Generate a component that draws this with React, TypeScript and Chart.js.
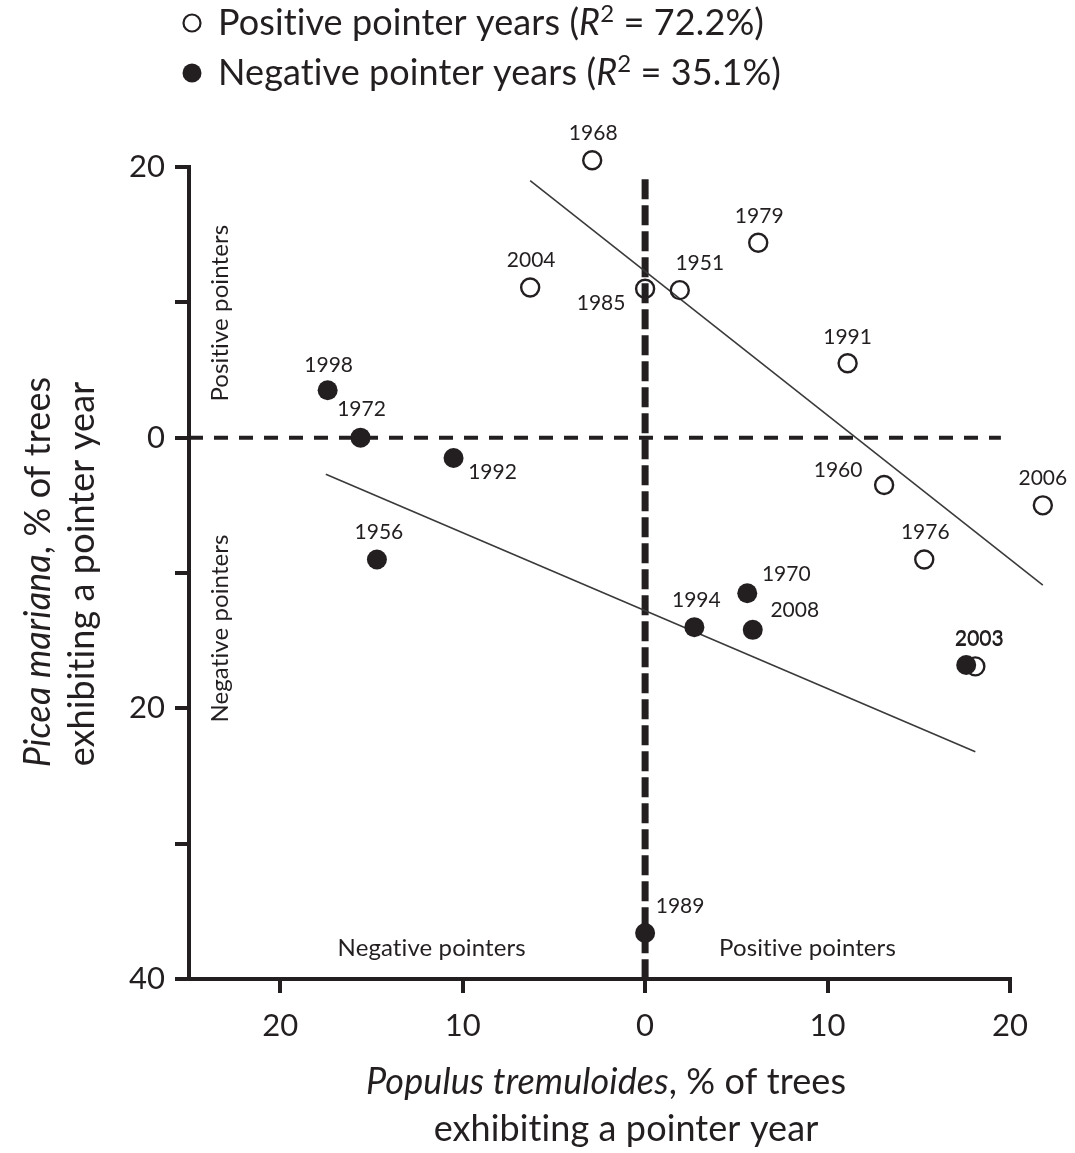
import React, { useEffect, useRef } from 'react';
import { Chart, registerables } from 'chart.js';

Chart.register(...registerables);

// ---- data ----
const positiveYears = ['1968', '2004', '1985', '1951', '1979', '1991', '1960', '2006', '1976', '2003'];
const positiveX = [-2.9, -6.3, 0, 1.9, 6.2, 11.1, 13.1, 21.8, 15.3, 18.1];
const positiveY = [20.5, 11.1, 11.0, 10.9, 14.4, 5.5, -3.5, -5.0, -9.0, -16.9];

const negativeYears = ['1998', '1972', '1992', '1956', '1970', '1994', '2008', '2003', '1989'];
const negativeX = [-17.4, -15.6, -10.5, -14.7, 5.6, 2.7, 5.9, 17.6, 0];
const negativeY = [3.5, 0, -1.5, -9.0, -11.5, -14.0, -14.2, -16.8, -36.6];

const positiveFitX = [-6.3, 21.8];
const positiveFitY = [19.0, -10.9];
const negativeFitX = [-17.5, 18.1];
const negativeFitY = [-2.7, -23.2];

const zeroLineHX = [-25, 19.5];
const zeroLineVY = [19.1, -40];

const xTicks = [-20, -10, 0, 10, 20];
const yTicks = [20, 10, 0, -10, -20, -30, -40];
const yLabelled = [20, 0, -20, -40];

// label offsets in px (placement only)
const positiveLabelOffsets: Record<string, [number, number]> = {
  '1968': [1, -27], '2004': [1, -27], '1985': [-44, 14], '1951': [20, -27], '1979': [1, -27],
  '1991': [0, -26], '1960': [-46, -15], '2006': [0, -27], '1976': [1, -27], '2003': [4, -28],
};
const negativeLabelOffsets: Record<string, [number, number]> = {
  '1998': [1, -25], '1972': [1, -28], '1992': [39, 14], '1956': [2, -27], '1970': [39, -19],
  '1994': [2, -27], '2008': [42, -20], '2003': [13, -26], '1989': [35, -27],
};

const INK = '#231f20';
const FONT = 'Lato, "Open Sans", sans-serif';

type Part = { t: string; it?: boolean; sup?: boolean };

function drawParts(
  ctx: CanvasRenderingContext2D, parts: Part[], size: number, x: number, y: number,
  align: 'left' | 'center' = 'center', rot = 0, baseline: CanvasTextBaseline = 'alphabetic'
) {
  ctx.save();
  ctx.translate(x, y);
  ctx.rotate(rot);
  ctx.fillStyle = INK;
  ctx.textAlign = 'left';
  ctx.textBaseline = baseline;
  (ctx as any).letterSpacing = '0.1px';
  const fontOf = (p: Part) => `${p.it ? 'italic ' : ''}${p.sup ? Math.round(size * 0.68) : size}px ${FONT}`;
  let w = 0;
  for (const p of parts) { ctx.font = fontOf(p); w += ctx.measureText(p.t).width; }
  let cx = align === 'center' ? -w / 2 : 0;
  for (const p of parts) {
    ctx.font = fontOf(p);
    ctx.fillText(p.t, cx, p.sup ? -size * 0.36 : 0);
    cx += ctx.measureText(p.t).width;
  }
  ctx.restore();
}

const widenAreaPlugin = {
  id: 'widenArea',
  beforeDatasetsDraw(chart: any) {
    chart.$savedArea = chart.chartArea;
    chart.chartArea = { ...chart.chartArea, left: 0, top: 0, right: chart.width, bottom: chart.height };
  },
  afterDatasetsDraw(chart: any) {
    if (chart.$savedArea) chart.chartArea = chart.$savedArea;
  },
};

const decorPlugin = {
  id: 'decor',
  afterDraw(chart: any) {
    const ctx: CanvasRenderingContext2D = chart.ctx;
    // point labels
    const drawLabels = (dsIndex: number, years: string[], offs: Record<string, [number, number]>) => {
      const meta = chart.getDatasetMeta(dsIndex);
      meta.data.forEach((el: any, i: number) => {
        const o = offs[years[i]] || [0, -27];
        ctx.save();
        ctx.font = `21px ${FONT}`;
        ctx.fillStyle = INK;
        ctx.textAlign = 'center';
        ctx.textBaseline = 'middle';
        ctx.fillText(years[i], el.x + o[0], el.y + o[1]);
        ctx.restore();
      });
    };
    drawLabels(0, negativeYears, negativeLabelOffsets);
    drawLabels(1, positiveYears, positiveLabelOffsets);

    // quadrant labels
    const ca = chart.chartArea;
    const xs = chart.scales.x;
    const ys = chart.scales.y;
    drawParts(ctx, [{ t: 'Positive pointers' }], 24, ca.left + 31, ys.getPixelForValue(9.2), 'center', -Math.PI / 2, 'middle');
    drawParts(ctx, [{ t: 'Negative pointers' }], 24, ca.left + 31, ys.getPixelForValue(-14.1), 'center', -Math.PI / 2, 'middle');
    drawParts(ctx, [{ t: 'Negative pointers' }], 24, xs.getPixelForValue(-11.7), ca.bottom - 31, 'center', 0, 'middle');
    drawParts(ctx, [{ t: 'Positive pointers' }], 24, xs.getPixelForValue(8.9), ca.bottom - 31, 'center', 0, 'middle');

    // axis titles
    drawParts(ctx, [{ t: 'Populus tremuloides', it: true }, { t: ', % of trees' }], 36, 606, 1094);
    drawParts(ctx, [{ t: 'exhibiting a pointer year' }], 36, 626, 1141);
    drawParts(ctx, [{ t: 'Picea mariana', it: true }, { t: ', % of trees' }], 36, 50, 572, 'center', -Math.PI / 2);
    drawParts(ctx, [{ t: 'exhibiting a pointer year' }], 36, 94, 574, 'center', -Math.PI / 2);

    // legend
    ctx.save();
    ctx.strokeStyle = INK;
    ctx.fillStyle = INK;
    ctx.lineWidth = 2.2;
    ctx.beginPath(); ctx.arc(192, 23, 8.5, 0, Math.PI * 2); ctx.stroke();
    ctx.beginPath(); ctx.arc(192, 73, 9.5, 0, Math.PI * 2); ctx.fill();
    ctx.restore();
    drawParts(ctx, [{ t: 'Positive pointer years (' }, { t: 'R', it: true }, { t: '2', sup: true }, { t: ' = 72.2%)' }], 36, 218, 35, 'left');
    drawParts(ctx, [{ t: 'Negative pointer years (' }, { t: 'R', it: true }, { t: '2', sup: true }, { t: ' = 35.1%)' }], 36, 218, 85, 'left');
  },
};

const toPts = (xs: number[], ys: number[]) => xs.map((x, i) => ({ x, y: ys[i] }));

export default function App() {
  const ref = useRef<HTMLCanvasElement>(null);
  useEffect(() => {
    if (!ref.current) return;
    const chart = new Chart(ref.current, {
      type: 'scatter',
      data: {
        datasets: [
          {
            label: 'Negative pointer years',
            data: toPts(negativeX, negativeY),
            pointRadius: 10,
            pointBackgroundColor: INK,
            pointBorderColor: INK,
            pointBorderWidth: 0,
            clip: false,
          } as any,
          {
            label: 'Positive pointer years',
            data: toPts(positiveX, positiveY),
            pointRadius: 9,
            pointBackgroundColor: 'rgba(255,255,255,0)',
            pointBorderColor: INK,
            pointBorderWidth: 2.4,
            clip: false,
          } as any,
          {
            label: 'fitPos',
            data: toPts(positiveFitX, positiveFitY),
            showLine: true,
            pointRadius: 0,
            borderColor: '#3a3a3a',
            borderWidth: 1.6,
            clip: false,
          } as any,
          {
            label: 'fitNeg',
            data: toPts(negativeFitX, negativeFitY),
            showLine: true,
            pointRadius: 0,
            borderColor: '#3a3a3a',
            borderWidth: 1.6,
            clip: false,
          } as any,
          {
            label: 'zeroH',
            data: toPts(zeroLineHX, [0, 0]),
            showLine: true,
            pointRadius: 0,
            borderColor: INK,
            borderWidth: 4,
            borderDash: [14, 11],
            borderCapStyle: 'butt',
            clip: false,
          } as any,
          {
            label: 'zeroV',
            data: toPts([0, 0], zeroLineVY),
            showLine: true,
            pointRadius: 0,
            borderColor: INK,
            borderWidth: 7,
            borderDash: [20, 6],
            borderCapStyle: 'butt',
            clip: false,
          } as any,
        ],
      },
      options: {
        animation: false,
        responsive: false,
        devicePixelRatio: 1,
        layout: { padding: { left: 0, top: 167, right: 65, bottom: 0 } },
        plugins: { legend: { display: false }, tooltip: { enabled: false } },
        scales: {
          x: {
            type: 'linear',
            min: -25,
            max: 20,
            afterBuildTicks: (s: any) => { s.ticks = xTicks.map((v) => ({ value: v })); },
            afterFit: (s: any) => { s.height = 174; },
            ticks: {
              autoSkip: false,
              maxRotation: 0,
              padding: 14,
              color: INK,
              font: { family: FONT, size: 31 },
              callback: (v: any) => String(Math.abs(Number(v))),
            },
            grid: { drawOnChartArea: false, drawTicks: true, tickLength: 14, color: INK, lineWidth: 4 },
            border: { display: true, color: INK, width: 4 },
          },
          y: {
            type: 'linear',
            min: -40,
            max: 20,
            afterBuildTicks: (s: any) => { s.ticks = yTicks.map((v) => ({ value: v })); },
            afterFit: (s: any) => { s.width = 189; },
            ticks: {
              autoSkip: false,
              padding: 10,
              color: INK,
              font: { family: FONT, size: 31 },
              callback: (v: any) => (yLabelled.includes(Number(v)) ? String(Math.abs(Number(v))) : ''),
            },
            grid: { drawOnChartArea: false, drawTicks: true, tickLength: 14, color: INK, lineWidth: 4 },
            border: { display: true, color: INK, width: 4 },
          },
        },
      },
      plugins: [widenAreaPlugin, decorPlugin],
    } as any);
    return () => chart.destroy();
  }, []);
  return (
    <div style={{ position: 'absolute', left: 0, top: 0, width: 1075, height: 1153, background: '#fff' }}>
      <canvas ref={ref} width={1075} height={1153} style={{ display: 'block' }} />
    </div>
  );
}
